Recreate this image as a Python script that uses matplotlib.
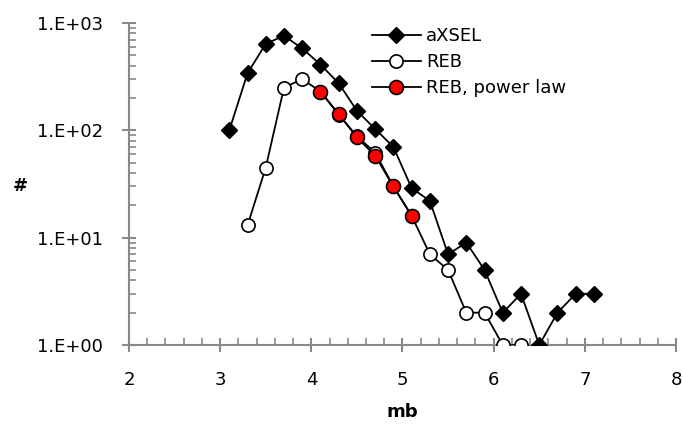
import matplotlib
matplotlib.use("Agg")
import matplotlib.pyplot as plt
from matplotlib.ticker import FixedLocator, MultipleLocator, LogLocator, NullFormatter

plt.rcParams['font.family'] = ['DejaVu Sans']

axsel_x = [3.1, 3.3, 3.5, 3.7, 3.9, 4.1, 4.3, 4.5, 4.7, 4.9, 5.1, 5.3, 5.5, 5.7, 5.9, 6.1, 6.3, 6.5, 6.7, 6.9, 7.1]
axsel_y = [100, 340, 640, 760, 580, 410, 275, 152, 103, 70, 29, 22, 7, 9, 5, 2, 3, 1, 2, 3, 3]

reb_x = [3.3, 3.5, 3.7, 3.9, 4.1, 4.3, 4.5, 4.7, 4.9, 5.1, 5.3, 5.5, 5.7, 5.9, 6.1, 6.3]
reb_y = [13, 45, 250, 300, 230, 140, 88, 62, 30, 16, 7, 5, 2, 2, 1, 1]

pl_x = [4.1, 4.3, 4.5, 4.7, 4.9, 5.1]
pl_y = [230, 142, 86, 58, 30, 16]

y_ticks = [1, 10, 100, 1000]
y_labels = ['1.E+00', '1.E+01', '1.E+02', '1.E+03']
x_ticks = [2, 3, 4, 5, 6, 7, 8]

W, H = 683, 425
fig = plt.figure(figsize=(W / 100, H / 100), dpi=100)
ax = fig.add_axes([129 / W, 1 - 345 / H, (676 - 129) / W, (345 - 23) / H])

ax.plot(axsel_x, axsel_y, color='black', lw=1.3, marker='D', ms=8, mfc='black', mec='black', label='aXSEL', zorder=3)
ax.plot(reb_x, reb_y, color='black', lw=1.3, marker='o', ms=9.5, mfc='white', mec='black', mew=1.2, label='REB', zorder=3)
ax.plot(pl_x, pl_y, color='black', lw=1.3, marker='o', ms=10, mfc='#ff0000', mec='black', mew=1.2, label='REB, power law', zorder=4)

ax.set_yscale('log')
ax.set_ylim(1, 1000)
ax.set_xlim(2, 8)
ax.yaxis.set_major_locator(FixedLocator(y_ticks))
ax.set_yticklabels(y_labels)
ax.yaxis.set_minor_locator(LogLocator(base=10, subs=range(2, 10)))
ax.yaxis.set_minor_formatter(NullFormatter())
ax.xaxis.set_major_locator(FixedLocator(x_ticks))
ax.set_xticklabels([str(v) for v in x_ticks])
ax.xaxis.set_minor_locator(MultipleLocator(0.2))

for s in ['top', 'right']:
    ax.spines[s].set_visible(False)
for s in ['left', 'bottom']:
    ax.spines[s].set_color('#898989')
    ax.spines[s].set_linewidth(1.5)
    ax.spines[s].set_zorder(1)

ax.tick_params(which='major', direction='inout', length=9.5, width=1.5, color='#898989', labelsize=13, labelcolor='black')
ax.tick_params(which='minor', direction='in', length=5, width=1.2, color='#898989')
ax.tick_params(axis='y', which='major', pad=14)
ax.tick_params(axis='x', which='major', pad=14)

ax.set_xlabel('mb', fontsize=13, fontweight='bold', labelpad=10)
ax.yaxis.set_label_coords(20 / W, 1 - 186 / H, transform=fig.transFigure)
ax.set_ylabel('#', fontsize=13, fontweight='bold', rotation=0, va='center', ha='center')

leg = fig.legend(*ax.get_legend_handles_labels(), loc='upper left', bbox_to_anchor=(372 / W, 1 - 27 / H),
                 frameon=False, fontsize=13, borderpad=0, borderaxespad=0,
                 handlelength=2.7, handletextpad=0.3, labelspacing=0.45)

fig.savefig('out.png', dpi=100)
